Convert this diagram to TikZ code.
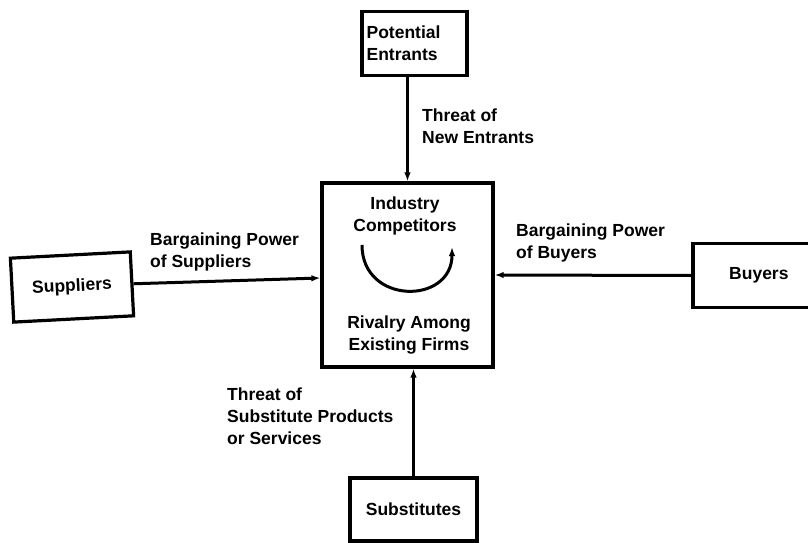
\documentclass[tikz,border=0pt]{standalone}
\usepackage{fontspec}
\setmainfont{Liberation Sans}
\usetikzlibrary{arrows.meta,calc}
\begin{document}
\begin{tikzpicture}[x=1pt,y=-1pt,
  txt/.style={font=\bfseries\fontsize{17.5}{22}\selectfont, inner sep=0pt},
  forcebox/.style={draw, line width=3.2pt, rectangle, inner sep=0pt},
  lbl/.style={txt, anchor=west, align=left},
  arr/.style={line width=3pt, -{Latex[length=9pt,width=6.5pt]}}
]
\useasboundingbox (0,0) rectangle (808,543);

% the five forces
\node[forcebox, minimum width=105pt, minimum height=64pt] (pe) at (414.5,43.5) {};
\node[txt, align=left, anchor=west] (petxt) at ([xshift=6pt]pe.west) {Potential\\Entrants};

\node[forcebox, minimum width=171pt, minimum height=184pt] (ind) at (407.5,275) {};
\node[txt, align=center] (indtop) at (405,215.5) {Industry\\Competitors};
\node[txt, align=center] (indbot) at (409,335) {Rivalry Among\\Existing Firms};

\node[forcebox, minimum width=120pt, minimum height=64pt, rotate=3] (sup) at (72,287) {};
\node[txt, rotate=3] (suptxt) at (sup.center) {Suppliers};

\node[forcebox, minimum width=130pt, minimum height=64pt] (buy) at (758,275.5) {};
\node[txt, anchor=west] (buytxt) at (729,275.5) {Buyers};

\node[forcebox, minimum width=127pt, minimum height=63pt] (sub) at (413.5,509.5) {};
\node[txt] (subtxt) at (sub.center) {Substitutes};

% rivalry loop inside the industry box
\draw[line width=3pt, -{Latex[length=9pt,width=6.5pt]}]
  (362,245) .. controls (362,305) and (452,305) .. (452,247);

% forces acting on the industry
\draw[arr] (ind.north |- pe.south) -- (ind.north);
\draw[arr] (sup.east) -- ([yshift=-3pt]ind.west);
\draw[arr] (buy.west) -- (ind.east);
\draw[arr] (sub.north) -- (sub.north |- ind.south);

% labels of the forces
\node[lbl] (l1) at (422,126.5) {Threat of\\New Entrants};
\node[lbl] (l2) at (150,251.5) {Bargaining Power\\of Suppliers};
\node[lbl] (l3) at (516,243) {Bargaining Power\\of Buyers};
\node[lbl] (l4) at (227,416.5) {Threat of\\Substitute Products\\or Services};
\end{tikzpicture}
\end{document}
